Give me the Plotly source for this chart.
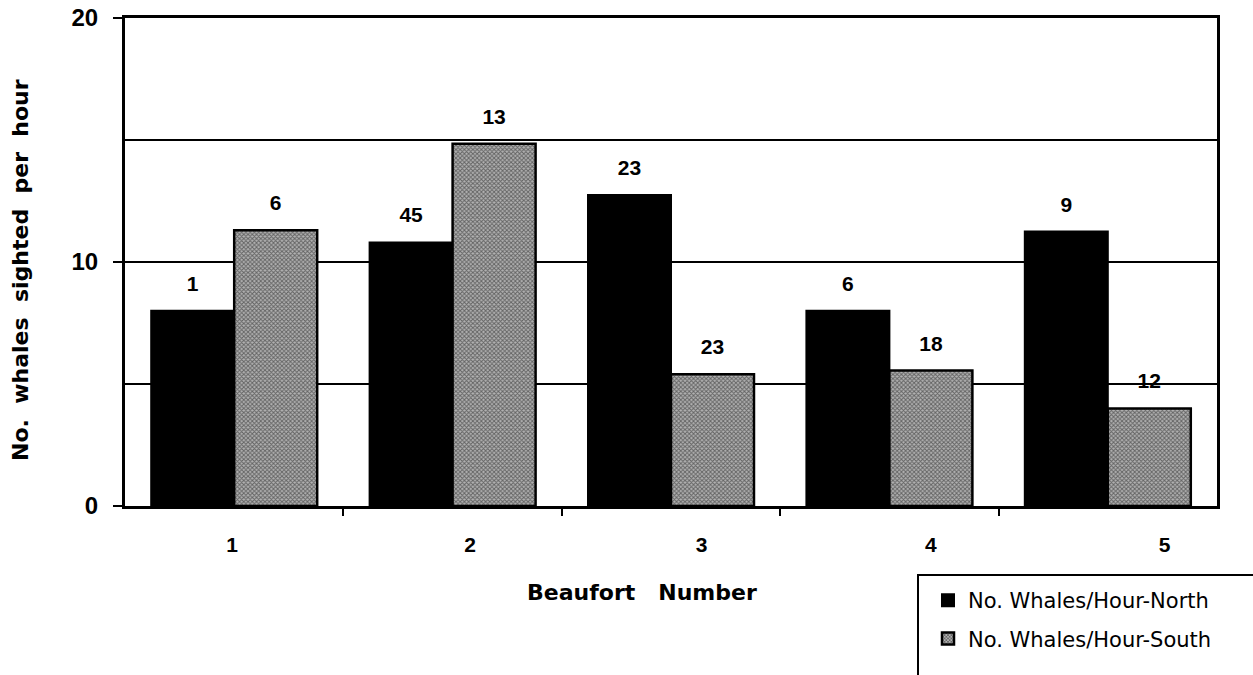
import plotly.graph_objects as go

# Whale sighting rates by sea state (Beaufort number)
beaufort = [1, 2, 3, 4, 5]
beaufort_labels = ["1", "2", "3", "4", "5"]
north_rate = [8.0, 10.8, 12.75, 8.0, 11.25]
south_rate = [11.3, 14.85, 5.4, 5.55, 4.0]
# sample sizes printed above the bars
north_n = ["1", "45", "23", "6", "9"]
south_n = ["6", "13", "23", "18", "12"]

W, H = 1253, 675
L, R, T, B = 125, 36, 18, 169
PW, PH = W - L - R, H - T - B


def px_x(px):
    return (px - L) / PW


def px_y(py):
    return (H - B - py) / PH


FONT = "Liberation Sans"
WIDE = "DejaVu Sans"
BOLD = dict(family=FONT, size=21, color="black", weight=700)
LABEL_FONT = dict(family=FONT, size=21, color="black", weight=700)

fig = go.Figure()

fig.add_trace(go.Bar(
    x=beaufort, y=north_rate, name="No. Whales/Hour-North",
    marker=dict(color="black", line=dict(color="black", width=2)),
    offsetgroup="north", legendgroup="north",
))
fig.add_trace(go.Bar(
    x=beaufort, y=south_rate, name="No. Whales/Hour-South",
    marker=dict(
        color="#a0a0a0",
        line=dict(color="black", width=2.5),
        pattern=dict(shape="x", size=3, solidity=0.55,
                     fgcolor="#151515", bgcolor="#b2b2b2"),
    ),
    offsetgroup="south", legendgroup="south",
))

# sample-size labels, grouped alongside the bars
fig.add_trace(go.Scatter(
    x=beaufort, y=north_rate, text=north_n, mode="markers+text",
    textposition="top center", textfont=LABEL_FONT,
    marker=dict(size=22, color="rgba(0,0,0,0)"), offsetgroup="north",
    showlegend=False, hoverinfo="skip", cliponaxis=False,
))
fig.add_trace(go.Scatter(
    x=beaufort, y=south_rate, text=south_n, mode="markers+text",
    textposition="top center", textfont=LABEL_FONT,
    marker=dict(size=22, color="rgba(0,0,0,0)"), offsetgroup="south",
    showlegend=False, hoverinfo="skip", cliponaxis=False,
))

label_shift = [-0.01, 0.08, 0.14, 0.19, 0.26]

fig.update_layout(
    width=W, height=H,
    margin=dict(l=L, r=R, t=T, b=B, autoexpand=False),
    paper_bgcolor="white", plot_bgcolor="white",
    barmode="group", bargap=0.24, bargroupgap=0,
    scattermode="group", scattergap=0.24,
    font=dict(family=FONT, color="black"),
    showlegend=True,
    legend=dict(
        x=px_x(928), y=px_y(580), xanchor="left", yanchor="top",
        bgcolor="rgba(0,0,0,0)", borderwidth=0,
        traceorder="grouped", tracegroupgap=8,
        font=dict(family=WIDE, size=21, color="black"),
        itemclick=False,
    ),
    xaxis=dict(
        range=[0.5, 5.5],
        tickmode="array",
        tickvals=[b + s for b, s in zip(beaufort, label_shift)],
        ticktext=beaufort_labels,
        ticks="", tickfont=BOLD, ticklabelstandoff=18,
        showgrid=False, zeroline=False,
        showline=True, linecolor="black", linewidth=2.5, mirror=True,
        minor=dict(tickvals=[1.5, 2.5, 3.5, 4.5], ticks="outside",
                   ticklen=7, tickwidth=2, tickcolor="black", showgrid=False),
    ),
    yaxis=dict(
        range=[0, 20],
        tickmode="array", tickvals=[0, 10, 20],
        ticks="outside", ticklen=9, tickwidth=2, tickcolor="black",
        tickfont=dict(family=FONT, size=24, color="black", weight=700),
        ticklabelstandoff=10,
        showgrid=True, gridcolor="black", gridwidth=2,
        zeroline=False,
        showline=True, linecolor="black", linewidth=3, mirror=True,
        minor=dict(tickvals=[5, 15], ticks="", showgrid=True,
                   gridcolor="black", gridwidth=2),
    ),
    annotations=[
        dict(text="No.  whales  sighted  per  hour", xref="paper", yref="paper",
             x=px_x(20), y=px_y(270), xanchor="center", yanchor="middle",
             textangle=-90, showarrow=False,
             font=dict(family=WIDE, size=22, color="black", weight=700)),
        dict(text="Beaufort   Number", xref="paper", yref="paper",
             x=px_x(642), y=px_y(592), xanchor="center", yanchor="middle",
             showarrow=False,
             font=dict(family=WIDE, size=22, color="black", weight=700)),
    ],
    shapes=[
        dict(type="rect", xref="paper", yref="paper",
             x0=px_x(918), x1=px_x(1262), y0=px_y(575), y1=px_y(690),
             line=dict(color="black", width=2), fillcolor="rgba(0,0,0,0)"),
    ],
)

fig.write_html("out.html")
